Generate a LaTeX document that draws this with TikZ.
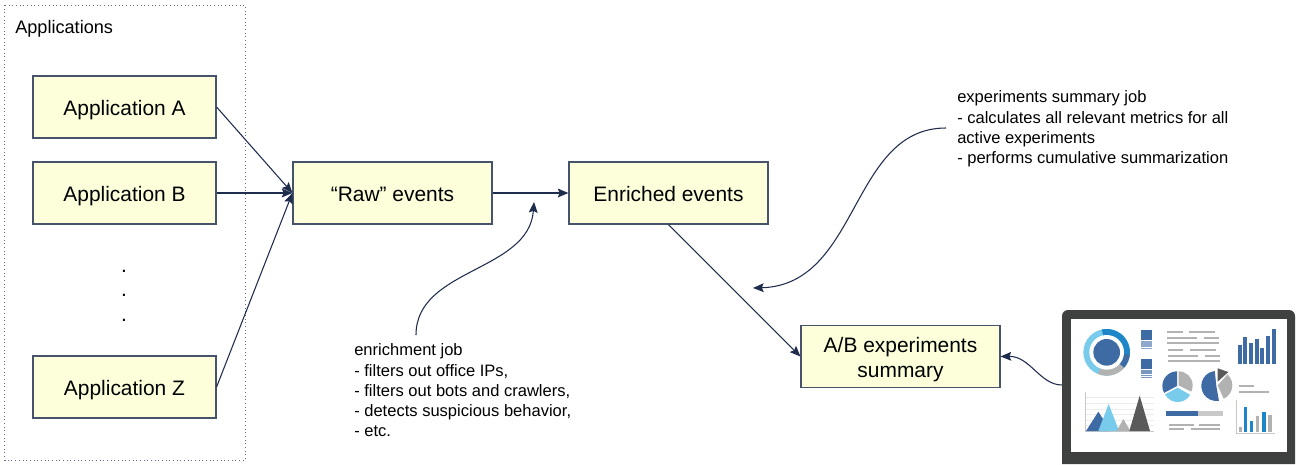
\documentclass[tikz,border=0pt]{standalone}
\usepackage{fontspec}
\setmainfont{Liberation Sans}
\usetikzlibrary{arrows.meta}
\definecolor{boxfill}{HTML}{FCFFD9}
\definecolor{navy}{HTML}{1F2D4D}
\definecolor{edgeC}{HTML}{47536B}
\definecolor{frameC}{HTML}{3F4040}
\definecolor{blueA}{HTML}{3F6BA5}
\definecolor{blueB}{HTML}{1E85C8}
\definecolor{blueL}{HTML}{79CBEC}
\definecolor{stripe}{HTML}{8FA8CC}
\definecolor{greyA}{HTML}{B2B2B2}
\definecolor{greyD}{HTML}{5A5A5A}
\definecolor{gridC}{HTML}{EDEDED}
\newcommand{\tx}[1]{\raisebox{-2.1pt}[0.75em][0.25em]{#1}}
\tikzset{
  appbox/.style={draw=edgeC,line width=0.85pt,fill=boxfill,minimum width=137.25pt,minimum height=46.5pt,inner sep=0pt,font=\fontsize{15.7}{18.8}\selectfont,align=center},
  widebox/.style={appbox,minimum width=149.25pt},
  note/.style={anchor=north west,inner sep=0pt,align=left,font=\fontsize{12.4}{15.2}\selectfont},
  link/.style={draw=navy,line width=0.8pt,-{Stealth[length=8pt,width=6.6pt,inset=1.4pt]}},
  tline/.style={draw=greyA,line width=1.4pt},
  gline/.style={draw=gridC,line width=0.4pt},
  axisline/.style={draw=greyA!70!white,line width=0.5pt},
  dotnode/.style={inner sep=0pt,font=\fontsize{15.7}{19}\selectfont},
}
\begin{document}
\begin{tikzpicture}[x=0.75pt,y=-0.75pt]
\useasboundingbox (0,0) rectangle (1299,464);
\fill[white] (0,0) rectangle (1299,464);
% container
\draw[gray!80!blue,line width=0.75pt,dotted] (4.5,5) rectangle (245,460);
\node[anchor=west,inner sep=0pt,font=\fontsize{13.6}{16}\selectfont] (apps) at (15,29) {Applications};
% boxes
\node[appbox] (appA) at (124.5,107) {\tx{Application A}};
\node[appbox] (appB) at (124.5,193) {\tx{Application B}};
\node[appbox] (appZ) at (124.5,387) {\tx{Application Z}};
\node[widebox] (raw) at (392.5,193) {\tx{“Raw” events}};
\node[widebox] (enr) at (668.5,193) {\tx{Enriched events}};
\node[widebox] (sum) at (900.5,356.5) {\tx{A/B experiments}\\\tx{summary}};
% dots
\node[dotnode] (d1) at (124,271) {.};
\node[dotnode] (d2) at (124,295) {.};
\node[dotnode] (d3) at (124,320) {.};
% notes
\node[note] (enjob) at (354,343.5) {enrichment job\\- filters out office IPs,\\- filters out bots and crawlers,\\- detects suspicious behavior,\\- etc.};
\node[note] (sumjob) at (957,90.5) {experiments summary job\\- calculates all relevant metrics for all\\active experiments\\- performs cumulative summarization};
% connectors
\draw[link] (appA.east) -- (raw.west);
\draw[link] (appB.east) -- (raw.west);
\draw[link] (appZ.east) -- (raw.west);
\draw[link] (raw.east) -- (enr.west);
\draw[link] (enr.south) -- (sum.west);
\coordinate (c1s) at (416,335);
\coordinate (c1e) at (534,202);
\coordinate (c2s) at (946,128);
\coordinate (c2e) at (753,288);
\coordinate (c3s) at (1062,385);
\draw[link] (c1s) .. controls (416,268) and (529,272) .. (c1e);
\draw[link] (c2s) .. controls (850,128) and (860,285) .. (c2e);
\draw[link] (c3s) .. controls (1040,385) and (1030,356) .. (sum.east);
% dashboard frame
\fill[frameC] (1062,464) -- (1062,316) arc (180:270:6) -- (1289,310) arc (270:360:6) -- (1295,464) -- cycle;
\fill[white] (1071,319) rectangle (1287,452);
\begin{scope}[x=0.25pt,y=-0.25pt,shift={(1050*0.75pt,-300*0.75pt)}]
  % donut
  \coordinate (dc) at (170,157);
  \fill[blueL] (dc) circle (70);
  \fill[blueB] (dc) -- ++(-102:70) arc (-102:5:70) -- cycle;
  \fill[blueA] (dc) -- ++(5:70) arc (5:42:70) -- cycle;
  \fill[greyA] (dc) -- ++(42:70) arc (42:112:70) -- cycle;
  \fill[white] (dc) circle (52);
  \fill[blueA] (dc) circle (40);
  % squares
  \fill[blueA] (273,90) rectangle (307,120);
  \foreach \yy in {126,132,138,145} \draw[stripe,line width=1pt] (273,\yy) -- (307,\yy);
  \fill[blueA] (273,177) rectangle (307,207);
  \foreach \yy in {213,219,226,232} \draw[blueA!70!white,line width=0.9pt] (273,\yy) -- (307,\yy);
  % text lines
  \foreach \a/\b/\yy in {352/398/95,417/495/95,352/440/113,463/507/113,352/507/129,354/400/150,420/497/150,354/443/167,465/509/167,354/509/184,566/612/259,566/656/276,357/432/376,446/510/376,357/402/388,422/510/388}
    \draw[tline] (\a,\yy) -- (\b,\yy);
  % bars top right
  \foreach \a/\t in {563/135,580/110,597/130,614/117,631/143,648/108,665/88}
    \fill[blueA] (\a,\t) rectangle (\a+12,192);
  % pie 1
  \coordinate (p1) at (381,258);
  \fill[blueA] (p1) -- ++(-90:44) arc (-90:-208:44) -- cycle;
  \fill[blueL] (383,263) -- ++(30:43) arc (30:152:43) -- cycle;
  \fill[greyA] (386,256) -- ++(-90:42) arc (-90:27:42) -- cycle;
  % pie 2
  \coordinate (p2) at (499,258);
  \fill[blueA] (p2) -- ++(-96:45) arc (-96:-280:45) -- cycle;
  \fill[greyA] (503,256) -- ++(-48:44) arc (-48:66:44) -- cycle;
  \fill[greyD] (503,245) -- (503,205) -- (535,216) -- cycle;
  % area chart
  \foreach \yy in {293,310,327,344,360,377} \draw[gline] (107,\yy) -- (312,\yy);
  \draw[axisline] (107,275) -- (107,393) -- (312,393);
  \fill[blueA] (108,393) -- (145,335) -- (182,393) -- cycle;
  \fill[blueL] (145,393) -- (176,312) -- (207,393) -- cycle;
  \fill[greyA] (200,393) -- (220,357) -- (241,393) -- cycle;
  \fill[greyD] (238,393) -- (269,287) -- (300,393) -- cycle;
  % progress bar
  \fill[blueA] (348,333) rectangle (445,348);
  \fill[greyA!70!white] (445,333) rectangle (518,348);
  % bar chart
  \draw[axisline] (558,300) -- (558,400) -- (675,400);
  \foreach \a/\t/\c in {567/381/greyA,581/320/blueB,600/364/blueB,618/348/greyA,637/336/blueB,655/344/greyA}
    \fill[\c] (\a,\t) rectangle (\a+10,395);
\end{scope}
\end{tikzpicture}
\end{document}
